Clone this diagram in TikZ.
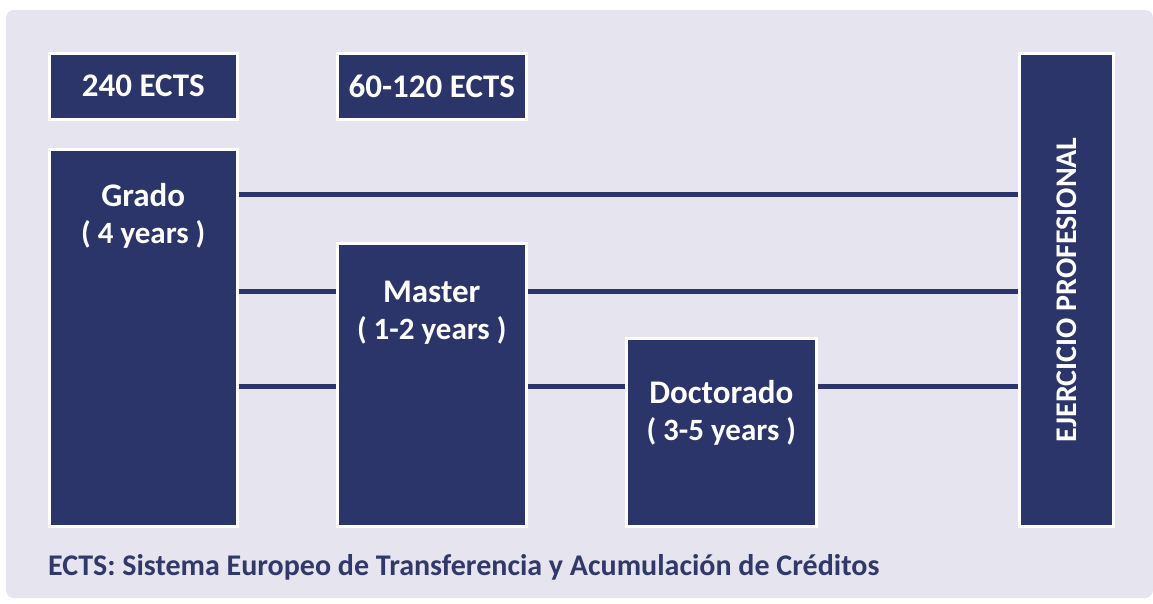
\documentclass[tikz,border=0pt]{standalone}
\usepackage{fontspec}
\setmainfont{Carlito}
\usetikzlibrary{positioning}
\definecolor{ectsNavy}{HTML}{2C3569}
\definecolor{ectsPanel}{HTML}{E6E5EF}
\definecolor{ectsNote}{HTML}{31386A}

\begin{document}
\begin{tikzpicture}[x=1pt,y=-1pt,
  stage/.style={rectangle,fill=ectsNavy,draw=white,line width=2.5pt,inner sep=0pt,anchor=north west,
    text=white,font=\fontsize{33}{38}\selectfont\bfseries},
  stagetxt/.style={text=white,font=\fontsize{33}{38}\selectfont\bfseries,anchor=base,inner sep=0pt},
  link/.style={draw=ectsNavy,line width=5pt}]
  % page and light panel
  \useasboundingbox[fill=white] (0,0) rectangle (1153,603);
  \fill[ectsPanel,rounded corners=8pt] (6,10) rectangle (1153,598);
  % credit boxes
  \node[stage,minimum width=188pt,minimum height=66pt] (ects1) at (48,52) {240 ECTS};
  \node[stage,minimum width=189pt,minimum height=66pt] (ects2) at (336,52) {60-120 ECTS};
  % study stages
  \node[stage,minimum width=188pt,minimum height=377pt] (grado) at (48,148) {};
  \node[stage,minimum width=189pt,minimum height=283pt] (master) at (336,242) {};
  \node[stage,minimum width=190pt,minimum height=188pt] (doct) at (625,337) {};
  \node[stage,minimum width=94pt,minimum height=473pt] (ejer) at (1018,52) {};
  \node[stagetxt,anchor=center,rotate=90,font=\fontsize{30}{36}\selectfont\bfseries] (ejertxt) at (ejer.center) {EJERCICIO PROFESIONAL};
  \foreach \b/\nm/\yrs/\dy in {grado/Grado/4/58, master/Master/1-2/60, doct/Doctorado/3-5/66}{
    \node[stagetxt] (\b name) at ([yshift=-\dy pt]\b.north) {\nm};
    \node[stagetxt,font=\fontsize{31}{37}\selectfont\bfseries] (\b yrs) at ([yshift=-\dy pt-37pt]\b.north) {( \yrs{} years )};
  }
  % connecting levels
  \coordinate (lvl1) at (0,194);
  \coordinate (lvl2) at (0,291);
  \coordinate (lvl3) at (0,386);
  \foreach \a/\z/\l in {grado/ejer/1, grado/master/2, master/ejer/2, grado/master/3, master/doct/3, doct/ejer/3}
    \draw[link] (\a.east |- lvl\l) -- (\z.west |- lvl\l);
  % footnote
  \node[anchor=base west,inner sep=0pt,text=ectsNote,font=\fontsize{30}{36}\selectfont\bfseries] (nota) at (48,575)
    {ECTS: Sistema Europeo de Transferencia y Acumulación de Créditos};
\end{tikzpicture}
\end{document}
